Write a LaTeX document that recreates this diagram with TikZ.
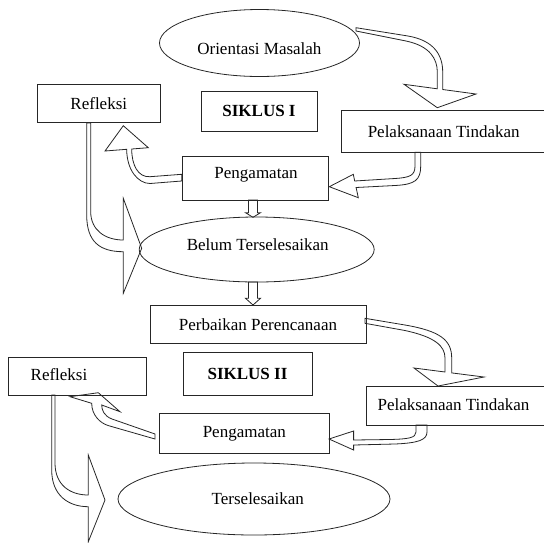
\documentclass[tikz,border=0pt]{standalone}
\usepackage{fontspec}
\setmainfont{Liberation Serif}
\usetikzlibrary{shapes.geometric}
\begin{document}
\begin{tikzpicture}[x=1pt,y=-1pt,
  lw/.style={line width=0.8pt, draw=black!85},
  box/.style={lw, rectangle, inner sep=0pt, font=\fontsize{17}{20}\selectfont},
  oval/.style={lw, ellipse, inner sep=0pt},
  txt/.style={inner sep=0pt, font=\fontsize{17}{20}\selectfont},
  barrow/.style={lw, fill=white, line join=miter},
]
\useasboundingbox (0,0) rectangle (544,542);
\clip (0,0) rectangle (544,542);

% block arrows (drawn first, nodes on top)
\draw[barrow] (356,27.7) -- (408,36) .. controls (434,40.5) and (442.7,55) .. (442.7,72) -- (442.7,89.5) -- (476,94) -- (437.3,107.7) -- (404,84.3) -- (437.3,88.8) -- (437.3,72) .. controls (437.3,59) and (430,46) .. (406,41) -- (356,31) -- cycle;
\draw[barrow] (415,152.3) -- (415,166) .. controls (415,175.5) and (410,177.5) .. (395,178.5) -- (354.7,181) -- (353.3,174.3) -- (329.3,186.7) -- (358.3,197.7) -- (356.1,187.5) -- (395,185.5) .. controls (415,184.5) and (420.7,180) .. (420.7,166) -- (420.7,152.3) -- cycle;
\draw[barrow] (181.7,174.3) -- (150,176.7) .. controls (138,177.5) and (131.7,165) .. (131.7,149) -- (148.3,147.7) -- (123.3,125.7) -- (105,151) -- (126.7,149.3) .. controls (126.7,170) and (138,183.5) .. (150,183.5) -- (181.7,181) -- cycle;
\draw[barrow] (86.7,123) -- (86.7,215) .. controls (86.7,242) and (100,251.7) .. (123.3,251.7) -- (123.3,293.3) -- (141.7,248.3) -- (123.3,198.3) -- (123.3,240) .. controls (105,240) and (90.7,230) .. (90.7,211.7) -- (90.7,123) -- cycle;
\draw[barrow] (248.5,200) -- (248.5,212.7) -- (245.5,212.7) -- (253,217.3) -- (260.5,212.7) -- (257.5,212.7) -- (257.5,200) -- cycle;
\draw[barrow] (248.5,282) -- (248.5,298.3) -- (245.5,298.3) -- (253,305) -- (260.5,298.3) -- (257.5,298.3) -- (257.5,282) -- cycle;
\draw[barrow] (365,318.3) -- (405,325) .. controls (440,331) and (451.7,340) .. (451.7,358) -- (451.7,372.9) -- (484,377) -- (438,386) -- (414,368) -- (445,372) -- (445,358) .. controls (445,346) and (435,337) .. (405,330.5) -- (365,323.3) -- cycle;
\draw[barrow] (416,425) -- (416,432) .. controls (416,438) and (408,439) .. (390,439.5) -- (353.6,440) -- (353.6,431) -- (329,439) -- (353.6,450) -- (353.6,445) -- (395,444) .. controls (418,443) and (427,440) .. (427,432) -- (427,425) -- cycle;
\draw[barrow] (155,434) -- (112,419) .. controls (104,416) and (101.7,410) .. (101.7,405) -- (120,411.7) -- (98.3,392.7) -- (70,396.7) -- (91.7,403.3) .. controls (91.7,415) and (100,423) .. (108,425.5) -- (155,439) -- cycle;
\draw[barrow] (51.7,395) -- (51.7,470) .. controls (51.7,495) and (68,506.7) .. (88.3,506.7) -- (88.3,541.7) -- (105,500) -- (88.3,455) -- (88.3,495) .. controls (70,495) and (55,485) .. (55,463) -- (55,395) -- cycle;

% nodes
\node[oval, minimum width=200pt, minimum height=67pt] (om) at (259.5,43) {};
\node[txt] (omt) at (259.4,49) {Orientasi Masalah};
\node[box, minimum width=122.4pt, minimum height=38.5pt] (ref1) at (98.8,103.2) {Refleksi};
\node[box, minimum width=116pt, minimum height=40pt, font=\fontsize{17}{20}\selectfont\bfseries] (sik1) at (259,111) {SIKLUS I};
\node[box, minimum width=204.6pt, minimum height=42.3pt] (pel1) at (443.7,131.2) {Pelaksanaan Tindakan};
\node[box, minimum width=146.5pt, minimum height=44pt] (pen1) at (255.3,178) {};
\node[txt] (pen1t) at (256,174.5) {Pengamatan};
\node[oval, minimum width=235pt, minimum height=65pt] (bel) at (256.7,249.5) {};
\node[txt] (belt) at (257.7,244.3) {Belum Terselesaikan};
\node[box, minimum width=216pt, minimum height=38.5pt] (per) at (258,324.3) {Perbaikan Perencanaan};
\node[box, minimum width=129pt, minimum height=43pt, font=\fontsize{17}{20}\selectfont\bfseries] (sik2) at (247.5,373.5) {SIKLUS II};
\node[box, minimum width=137.3pt, minimum height=38pt] (ref2) at (77.4,376) {};
\node[txt] (ref2t) at (59,375) {Refleksi};
\node[box, minimum width=179.5pt, minimum height=39pt] (pel2) at (456.3,405.5) {};
\node[txt] (pel2t) at (453.5,405) {Pelaksanaan Tindakan};
\node[box, minimum width=169.5pt, minimum height=39.8pt] (pen2) at (244.3,433.4) {Pengamatan};
\node[oval, minimum width=272pt, minimum height=72pt] (ter) at (254,499) {};
\node[txt] (tert) at (257.8,499) {Terselesaikan};
\end{tikzpicture}
\end{document}
